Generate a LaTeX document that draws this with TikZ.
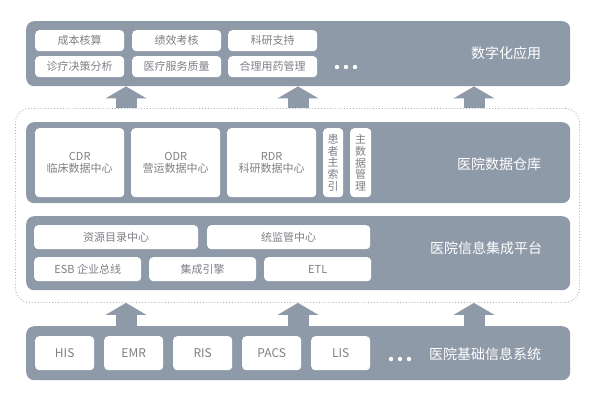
\documentclass[tikz,border=0pt]{standalone}
\usepackage{fontspec}
\newfontfamily\cjk{Noto Sans CJK SC}
\usetikzlibrary{arrows.meta}
\definecolor{bandc}{RGB}{143,154,169}
\definecolor{txtc}{RGB}{125,128,133}
\definecolor{dotc}{RGB}{175,178,182}
\tikzset{
  band/.style={fill=bandc, rounded corners=8pt, anchor=north west, inner sep=0pt, minimum width=544pt},
  ibox/.style={fill=white, rounded corners=4pt, anchor=north west, inner sep=0pt, text=txtc, font=\cjk\fontsize{11}{13}\selectfont},
  bbox/.style={ibox, minimum width=59pt, minimum height=34pt, font=\cjk\fontsize{12}{14}\selectfont},
  vbox/.style={ibox, minimum height=69pt, align=center, font=\cjk\fontsize{11}{11.6}\selectfont},
  blabel/.style={text=white, font=\cjk\fontsize{14}{16}\selectfont},
  frame/.style={draw=dotc, dotted, line width=0.9pt, rounded corners=14pt, anchor=north west, inner sep=0pt},
  bigarrow/.style={draw=bandc, line width=21pt, -{Triangle[length=12pt,width=41pt,line width=0pt]}},
  dot/.style={fill=white}
}
\begin{document}
\begin{tikzpicture}[x=1pt,y=-1pt]
\useasboundingbox (0,0) rectangle (596,402);
% top band
\node[band, minimum height=65pt] (app) at (26,21) {};
\node[ibox, minimum width=89pt, minimum height=21pt] (a11) at (35,30) {成本核算};
\node[ibox, minimum width=89pt, minimum height=21pt] (a12) at (132,30) {绩效考核};
\node[ibox, minimum width=89pt, minimum height=21pt] (a13) at (228,30) {科研支持};
\node[ibox, minimum width=89pt, minimum height=21pt] (a21) at (35,56) {诊疗决策分析};
\node[ibox, minimum width=89pt, minimum height=21pt] (a22) at (132,56) {医疗服务质量};
\node[ibox, minimum width=89pt, minimum height=21pt] (a23) at (228,56) {合理用药管理};
\foreach \x in {337,346,355} \fill[dot] (\x,67) circle (2.2pt);
\node[blabel] (appl) at (506,53) {数字化应用};
% dotted frame
\node[frame, minimum width=564pt, minimum height=194pt] (fr) at (15,108) {};
% data warehouse
\node[band, minimum height=81pt] (dw) at (26,122) {};
\node[ibox, minimum width=89pt, minimum height=69pt, align=center] (cdr) at (35,128) {CDR\\[-1pt]临床数据中心};
\node[ibox, minimum width=89pt, minimum height=69pt, align=center] (odr) at (131,128) {ODR\\[-1pt]营运数据中心};
\node[ibox, minimum width=89pt, minimum height=69pt, align=center] (rdr) at (227,128) {RDR\\[-1pt]科研数据中心};
\node[vbox, minimum width=20pt] (empi) at (323,128) {患\\者\\主\\索\\引};
\node[vbox, minimum width=21pt] (mdm) at (350,128) {主\\数\\据\\管\\理};
\node[blabel] (dwl) at (499,164) {医院数据仓库};
% integration platform
\node[band, minimum height=74pt] (ip) at (26,216) {};
\node[ibox, minimum width=164pt, minimum height=24pt] (res) at (34,225) {资源目录中心};
\node[ibox, minimum width=163pt, minimum height=24pt] (mon) at (207,225) {统监管中心};
\node[ibox, minimum width=107pt, minimum height=24pt] (esb) at (34,257) {ESB 企业总线};
\node[ibox, minimum width=107pt, minimum height=24pt] (eng) at (149,257) {集成引擎};
\node[ibox, minimum width=107pt, minimum height=24pt] (etl) at (264,257) {ETL};
\node[blabel] (ipl) at (486,248) {医院信息集成平台};
% base systems
\node[band, minimum height=54pt] (base) at (26,326) {};
\node[bbox] (his) at (35,336) {HIS};
\node[bbox] (emr) at (104,336) {EMR};
\node[bbox] (ris) at (173,336) {RIS};
\node[bbox] (pacs) at (242,336) {PACS};
\node[bbox] (lis) at (311,336) {LIS};
\foreach \x in {391,400,409} \fill[dot] (\x,359) circle (2.2pt);
\node[blabel] (basel) at (485,354) {医院基础信息系统};
% arrows
\coordinate (c1) at (126,0);
\coordinate (c2) at (298,0);
\coordinate (c3) at (474,0);
\foreach \c in {c1,c2,c3} {
  \draw[bigarrow] (fr.north -| \c) -- (app.south -| \c);
  \draw[bigarrow] (base.north -| \c) -- (fr.south -| \c);
}
\end{tikzpicture}
\end{document}
